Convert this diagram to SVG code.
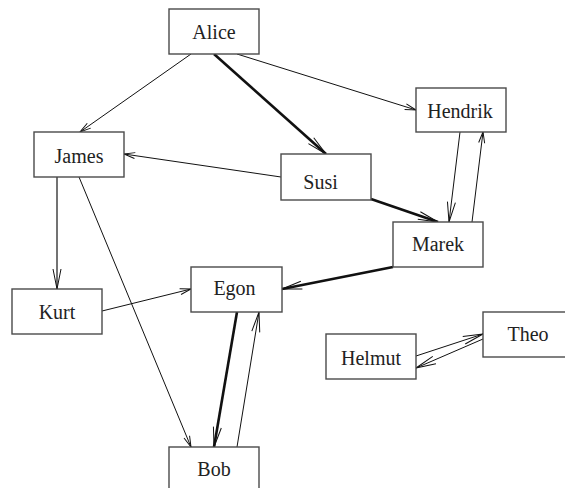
<svg xmlns="http://www.w3.org/2000/svg" width="565" height="488" viewBox="0 0 565 488">
<style>
.box{fill:#fff;stroke:#4a4a4a;stroke-width:1.4}
.lbl{font-family:"Liberation Serif","Times New Roman",serif;font-size:20px;fill:#222;text-anchor:middle}
.e{fill:none;stroke:#111;stroke-width:1}
.t{fill:none;stroke:#111;stroke-width:2.6}
.g{fill:none;stroke:#444;stroke-width:1.5}
</style>
<defs>
<marker id="al" markerUnits="userSpaceOnUse" viewBox="-22 -6 24 12" markerWidth="24" markerHeight="12" refX="0" refY="0" orient="auto">
<path d="M-20,-4 L0,0 L-20,4" fill="none" stroke="#111" stroke-width="1"/>
</marker>
<marker id="as" markerUnits="userSpaceOnUse" viewBox="-13 -5 15 10" markerWidth="15" markerHeight="10" refX="0" refY="0" orient="auto">
<path d="M-11,-3 L0,0 L-11,3" fill="none" stroke="#111" stroke-width="1"/>
</marker>
</defs>
<rect width="565" height="488" fill="#fff"/>
<g id="connectors">
<line class="e" x1="191" y1="54" x2="80" y2="132" marker-end="url(#as)"/>
<line class="t" x1="214" y1="54" x2="326" y2="154" marker-end="url(#al)"/>
<line class="e" x1="237" y1="54" x2="416" y2="110" marker-end="url(#as)"/>
<line class="e" x1="460" y1="132" x2="449" y2="222" marker-end="url(#al)"/>
<line class="e" x1="472" y1="222" x2="483" y2="132" marker-end="url(#as)"/>
<line class="t" x1="371" y1="199" x2="438" y2="222" marker-end="url(#al)"/>
<line class="e" x1="281" y1="177" x2="124" y2="154" marker-end="url(#as)"/>
<line class="g" x1="57" y1="177" x2="57" y2="289" marker-end="url(#al)"/>
<line class="e" x1="79" y1="177" x2="191" y2="447" marker-end="url(#as)"/>
<line class="e" x1="102" y1="311" x2="191" y2="289" marker-end="url(#as)"/>
<line class="t" x1="393" y1="267" x2="282" y2="289" marker-end="url(#al)"/>
<line class="t" x1="237" y1="312" x2="214" y2="447" marker-end="url(#al)"/>
<line class="e" x1="237" y1="447" x2="259" y2="312" marker-end="url(#al)"/>
<line class="e" x1="416" y1="356" x2="483" y2="334" marker-end="url(#al)"/>
<line class="e" x1="483" y1="339" x2="416" y2="368" marker-end="url(#al)"/>
</g>
<g id="Alice"><rect class="box" x="169" y="9" width="90" height="45"/><text class="lbl" x="214" y="38.5">Alice</text></g>
<g id="Hendrik"><rect class="box" x="416" y="88" width="90" height="44"/><text class="lbl" x="460" y="117.5">Hendrik</text></g>
<g id="Susi"><rect class="box" x="281" y="154" width="90" height="46"/><text class="lbl" x="320.5" y="188.5">Susi</text></g>
<g id="James"><rect class="box" x="34" y="132" width="90" height="45"/><text class="lbl" x="79" y="162.5">James</text></g>
<g id="Marek"><rect class="box" x="393" y="222" width="90" height="45"/><text class="lbl" x="438" y="251">Marek</text></g>
<g id="Kurt"><rect class="box" x="12" y="289" width="90" height="45"/><text class="lbl" x="57" y="319">Kurt</text></g>
<g id="Egon"><rect class="box" x="191" y="267" width="91" height="45"/><text class="lbl" x="234.5" y="294.5">Egon</text></g>
<g id="Helmut"><rect class="box" x="326" y="334" width="90" height="45"/><text class="lbl" x="371" y="364.5">Helmut</text></g>
<g id="Theo"><rect class="box" x="483" y="312" width="90" height="45"/><text class="lbl" x="528" y="341">Theo</text></g>
<g id="Bob"><rect class="box" x="169" y="447" width="90" height="45"/><text class="lbl" x="214" y="476">Bob</text></g>
</svg>
